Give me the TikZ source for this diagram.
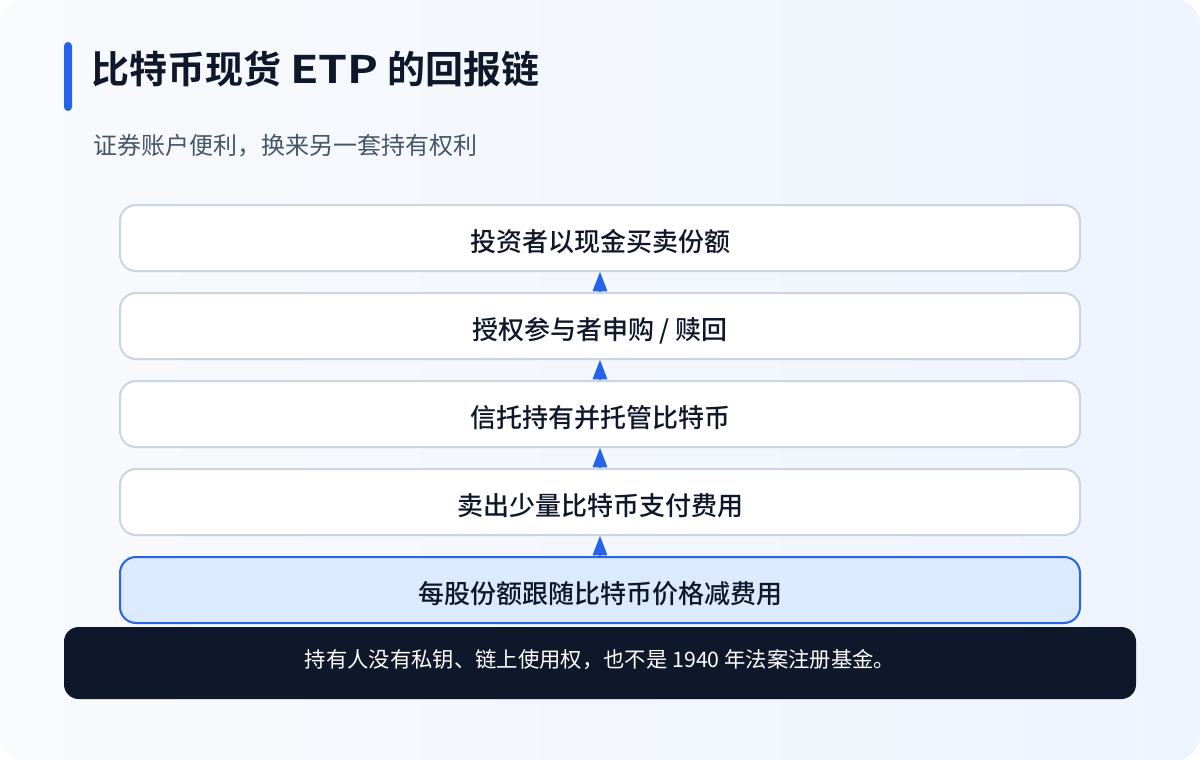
\documentclass[tikz,border=0pt]{standalone}
\usepackage{fontspec}
\setmainfont{Noto Sans CJK SC}[BoldFont={Noto Sans CJK SC Medium}]
\newfontfamily\headfont{Noto Sans CJK SC Bold}
\usetikzlibrary{arrows.meta}

\definecolor{inkdark}{HTML}{0F172A}
\definecolor{inksub}{HTML}{475569}
\definecolor{edgegrey}{HTML}{CBD5E1}
\definecolor{accent}{HTML}{2563EB}
\definecolor{paleblue}{HTML}{DBEAFE}
\definecolor{bgA}{HTML}{F8FAFC}
\definecolor{bgB}{HTML}{EEF4FE}

\tikzset{
	stage/.style={draw=edgegrey, line width=1.5pt, fill=white, rounded corners=12pt,
		minimum width=720pt, minimum height=49.5pt, text=inkdark,
		text height=22pt, text depth=2pt,
		font=\bfseries\fontsize{19.5}{23}\selectfont},
	basestage/.style={stage, draw=accent, fill=paleblue},
	flow/.style={accent, line width=0.8pt, -{Triangle[length=14.5pt, width=11pt]}},
	notebar/.style={fill=inkdark, rounded corners=11pt, minimum width=804pt,
		minimum height=54pt, text=white, text height=12pt, text depth=6pt,
		font=\fontsize{16}{19}\selectfont}
}

\begin{document}
\begin{tikzpicture}[x=0.75pt, y=-0.75pt]
	\useasboundingbox (0,0) rectangle (1200,760);
	\fill[white] (0,0) rectangle (1200,760);
	\shade[rounded corners=18pt, left color=bgA, right color=bgB] (0,0) rectangle (1200,760);

	\fill[accent, rounded corners=3pt] (64,42) rectangle (72,111);
	\node[anchor=west, text=inkdark, font=\headfont\fontsize{28.5}{32}\selectfont] (title) at (87,69) {比特币现货 \scalebox{1.22}[1]{ETP} 的回报链};
	\node[anchor=west, text=inksub, font=\fontsize{18}{22}\selectfont] (subtitle) at (89,146) {证券账户便利，换来另一套持有权利};

	\node[stage] (trade) at (600,238) {投资者以现金买卖份额};
	\node[stage] (create) at (600,326) {授权参与者申购 / 赎回};
	\node[stage] (trust) at (600,414) {信托持有并托管比特币};
	\node[stage] (fees) at (600,502) {卖出少量比特币支付费用};
	\node[basestage] (share) at (600,590) {每股份额跟随比特币价格减费用};

	\draw[flow] (create.north) -- (trade.south);
	\draw[flow] (trust.north) -- (create.south);
	\draw[flow] (fees.north) -- (trust.south);
	\draw[flow] (share.north) -- (fees.south);

	\node[notebar] (note) at (600,663) {持有人没有私钥、链上使用权，也不是 1940 年法案注册基金。};
\end{tikzpicture}
\end{document}
